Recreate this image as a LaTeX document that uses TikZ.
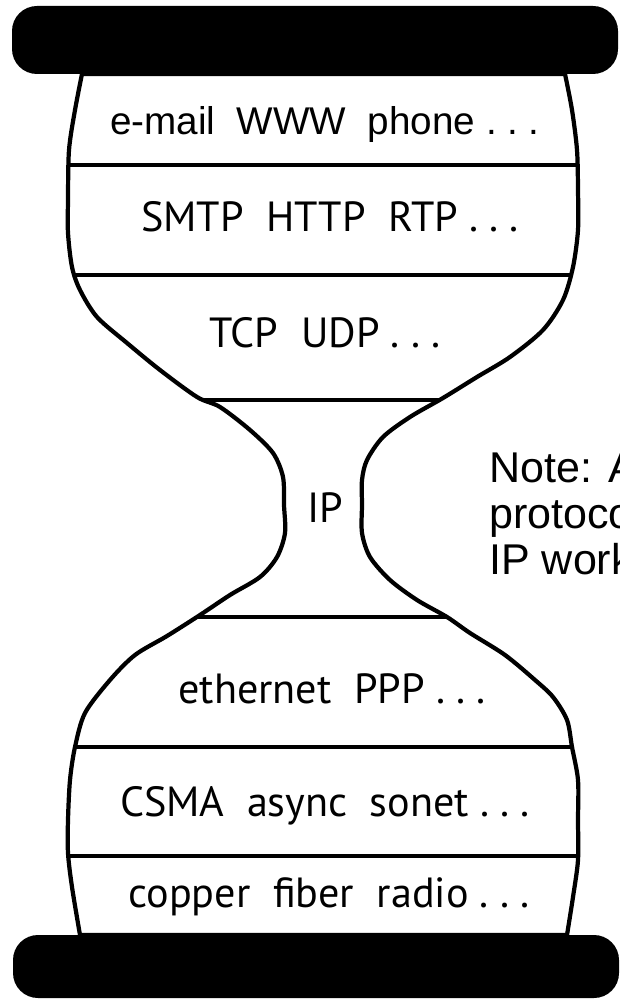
\documentclass[tikz,border=0pt]{standalone}
\usepackage{fontspec}
\setmainfont{Liberation Sans}
\newfontfamily\layerfont{PT Sans}
\usepackage{tikz}
\tikzset{
  layer/.style={font=\layerfont\fontsize{24}{28}\selectfont, inner sep=0pt, anchor=base},
  toplayer/.style={font=\fontsize{22}{26}\selectfont, inner sep=0pt, anchor=base},
  note/.style={font=\fontsize{24.5}{26}\selectfont, align=left, anchor=base west, inner sep=0pt},
  waist/.style={line width=2.4pt, line join=round},
  divider/.style={line width=2pt},
  plate/.style={fill=black, rounded corners=0.5cm},
}
% outline of the hourglass (pixel coordinates, y down)
\newcommand{\glassoutline}{
  plot[smooth] coordinates {(82,74) (75,110) (69,150) (68,200) (68,233) (72,267)
    (80,290) (97,317) (127,343) (160,370) (197,397) (220,407) (250,430) (273,453)
    (283,477) (284,505) (285,533) (277,557) (260,577) (230,595) (200,615) (167,636)
    (135,655) (110,680) (85,713) (75,747) (70,780) (68,820) (68,853) (72,887) (80,935)}
  -- plot[smooth] coordinates {(567,935) (573,897) (578,860) (578,820) (578,780)
    (572,747) (567,720) (553,697) (535,680) (505,655) (470,633) (447,617) (417,600)
    (390,580) (370,557) (362,533) (362,505) (362,480) (367,460) (383,437) (410,417)
    (443,398) (477,377) (510,357) (543,330) (563,300) (573,267) (578,230) (578,190)
    (577,150) (572,110) (565,74)}
  -- cycle
}

\begin{document}
\begin{tikzpicture}[x=0.02cm, y=-0.02cm]
  \useasboundingbox (0,0) rectangle (619,1000);
  \clip (0,0) rectangle (619,1000);

  % layer borders
  \begin{scope}
    \clip \glassoutline;
    \foreach \y in {165, 275, 400, 617, 747, 856} {
      \draw[divider] (0,\y) -- (619,\y);
    }
  \end{scope}
  \draw[waist] \glassoutline;

  % top and bottom plates
  \path[plate] (12,6) rectangle (618,74);
  \path[plate] (13,935) rectangle (619,998);

  % layer labels
  \node[toplayer] (app) at (325,135) {e-mail\ \ WWW\ \ phone\ .\ .\ .};
  \node[layer] (appproto) at (330,232) {SMTP\ \ HTTP\ \ RTP\ .\ .\ .};
  \node[layer] (transport) at (325,347) {TCP\ \ UDP\ .\ .\ .};
  \node[layer] (ip) at (325,522) {IP};
  \node[layer] (link) at (332,703) {ethernet\ \ PPP\ .\ .\ .};
  \node[layer] (access) at (325,816) {CSMA\ \ async\ \ sonet\ .\ .\ .};
  \node[layer] (phys) at (329,907) {copper\ \ fiber\ \ radio\ .\ .\ .};

  \node[note] (note) at (489,574) {Note: All\\protocols\\IP works};
\end{tikzpicture}
\end{document}
